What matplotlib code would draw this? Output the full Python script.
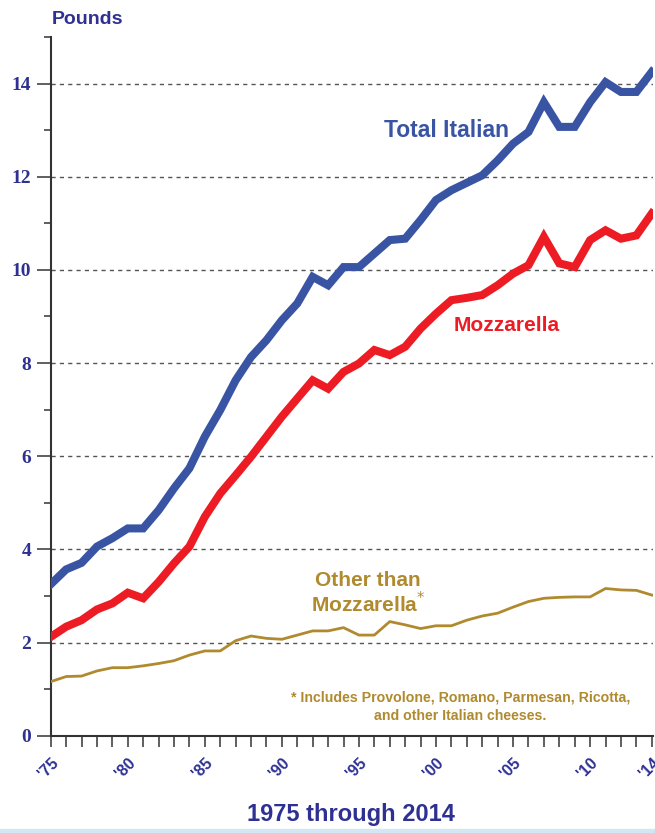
import matplotlib
matplotlib.use("Agg")
import matplotlib.pyplot as plt
from matplotlib.ticker import MultipleLocator
from matplotlib.patches import Rectangle

# Per capita Italian cheese consumption, pounds
years = list(range(1975, 2015))
total_italian = [3.25, 3.57, 3.71, 4.06, 4.24, 4.45, 4.45, 4.84, 5.31, 5.74,
                 6.42, 6.99, 7.63, 8.13, 8.49, 8.92, 9.28, 9.85, 9.67, 10.06,
                 10.06, 10.35, 10.64, 10.67, 11.07, 11.50, 11.71, 11.87, 12.03, 12.35,
                 12.71, 12.96, 13.60, 13.07, 13.07, 13.60, 14.03, 13.82, 13.82, 14.25]
mozzarella = [2.12, 2.34, 2.48, 2.71, 2.84, 3.07, 2.95, 3.30, 3.70, 4.06,
              4.70, 5.20, 5.59, 5.99, 6.42, 6.85, 7.24, 7.63, 7.45, 7.81,
              7.99, 8.28, 8.17, 8.35, 8.74, 9.06, 9.35, 9.40, 9.46, 9.67,
              9.92, 10.10, 10.71, 10.14, 10.06, 10.64, 10.85, 10.67, 10.74, 11.21]
other = [1.16, 1.27, 1.28, 1.39, 1.46, 1.46, 1.50, 1.55, 1.61, 1.73,
         1.82, 1.82, 2.04, 2.14, 2.09, 2.07, 2.16, 2.25, 2.25, 2.32,
         2.16, 2.16, 2.45, 2.38, 2.30, 2.36, 2.36, 2.48, 2.57, 2.63,
         2.76, 2.88, 2.95, 2.97, 2.98, 2.98, 3.16, 3.13, 3.12, 3.02]
label_years = [1975, 1980, 1985, 1990, 1995, 2000, 2005, 2010, 2014]

navy = "#2E3192"
blue = "#3A54A4"
red = "#ED1C24"
gold = "#B08A2E"

fig = plt.figure(figsize=(6.55, 8.33), dpi=100)
ax = fig.add_axes([0.0774, 0.1168, 0.92, 0.8388])

ax.plot(years, total_italian, color=blue, lw=5.8, solid_joinstyle="miter", zorder=3)
ax.plot(years, mozzarella, color=red, lw=5.8, solid_joinstyle="miter", zorder=3)
ax.plot(years, other, color=gold, lw=2.0, zorder=3)

ax.set_xlim(1975, 2014.1)
ax.set_ylim(0, 15)

ax.yaxis.set_minor_locator(MultipleLocator(1))
ax.set_yticks(range(0, 15, 2))
ax.set_yticklabels([str(v) for v in range(0, 15, 2)],
                   fontfamily="Liberation Serif", fontweight="bold",
                   fontsize=14, color=navy)
for v in range(2, 15, 2):
    ax.axhline(v, color="#555555", lw=1.0, ls=(0, (3, 3)), zorder=1)

ax.set_xticks(years)
ax.set_xticklabels(["'%02d" % (y % 100) if y in label_years else "" for y in years],
                   rotation=45, ha="right", va="top", rotation_mode="anchor",
                   fontfamily="Liberation Sans", fontweight="bold",
                   fontsize=11.5, color=navy)

ax.tick_params(axis="x", direction="out", length=8, width=1.2, color="#444444", pad=6)
ax.tick_params(axis="y", which="major", direction="out", length=10, width=1.2,
               color="#444444", pad=4)
ax.tick_params(axis="y", which="minor", direction="out", length=5, width=1.2,
               color="#444444")

for s in ["top", "right"]:
    ax.spines[s].set_visible(False)
for s in ["left", "bottom"]:
    ax.spines[s].set_color("#333333")
    ax.spines[s].set_linewidth(1.5)

ax.text(1977.4, 15.2, "Pounds", fontfamily="Liberation Sans", fontweight="bold",
        fontsize=14, color=navy, ha="center", va="bottom")

ax.text(2000.7, 13.0, "Total Italian", fontfamily="Liberation Sans",
        fontweight="bold", fontsize=16.5, color=blue, ha="center", va="center")
ax.text(2004.6, 8.8, "Mozzarella", fontfamily="Liberation Sans",
        fontweight="bold", fontsize=15, color=red, ha="center", va="center")
ax.text(1995.6, 3.06, "Other than\nMozzarella$^{*}$", fontfamily="Liberation Sans",
        fontweight="bold", fontsize=15, color=gold, ha="center", va="center",
        linespacing=1.05)
ax.text(2001.6, 0.62, "* Includes Provolone, Romano, Parmesan, Ricotta,\nand other Italian cheeses.",
        fontfamily="Liberation Sans", fontweight="bold", fontsize=10.2,
        color=gold, ha="center", va="center", linespacing=1.4)

fig.text(351 / 655, 1 - 815 / 833, "1975 through 2014", fontfamily="Liberation Sans",
         fontweight="bold", fontsize=17, color=navy, ha="center", va="center")

fig.patches.append(Rectangle((0, 0), 1, 4 / 833, transform=fig.transFigure,
                             color="#D3E6F3", zorder=0))

fig.savefig("out.png", dpi=100, facecolor="white")
